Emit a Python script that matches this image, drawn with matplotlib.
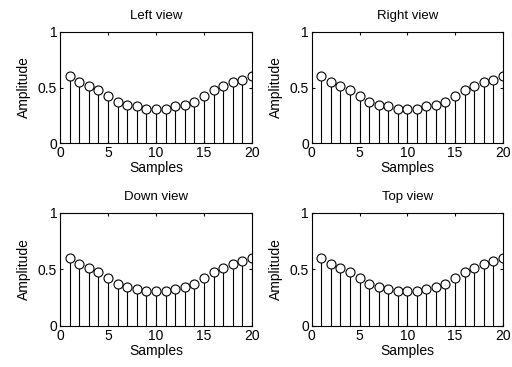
import matplotlib
matplotlib.use("Agg")
import matplotlib.pyplot as plt
import numpy as np

plt.rcParams['font.family'] = ['Liberation Sans', 'DejaVu Sans']

samples = np.arange(1, 21)
amplitude = [0.60, 0.55, 0.51, 0.48, 0.42, 0.37, 0.34, 0.33, 0.31, 0.31,
             0.31, 0.33, 0.34, 0.37, 0.42, 0.48, 0.51, 0.55, 0.57, 0.60]
titles = ["Left view", "Right view", "Down view", "Top view"]

fig = plt.figure(figsize=(5.12, 3.67), dpi=100)
positions = [[0.117, 0.610, 0.375, 0.303], [0.609, 0.610, 0.373, 0.303],
             [0.117, 0.112, 0.375, 0.308], [0.609, 0.112, 0.373, 0.308]]

for pos, title in zip(positions, titles):
    ax = fig.add_axes(pos)
    ax.vlines(samples, 0, amplitude, colors="black", linewidth=0.8)
    ax.plot(samples, amplitude, "o", mfc="white", mec="black", ms=6.5, mew=0.8)
    ax.set_xlim(0, 20)
    ax.set_ylim(0, 1)
    ax.set_xticks([0, 5, 10, 15, 20])
    ax.set_yticks([0, 0.5, 1])
    ax.set_yticklabels(["0", "0.5", "1"])
    ax.tick_params(direction="in", top=True, right=True, labelsize=10, length=2.5, pad=2)
    ax.set_title(title, fontsize=9.5, pad=9)
    ax.set_xlabel("Samples", fontsize=10, labelpad=1)
    ax.set_ylabel("Amplitude", fontsize=10, labelpad=5)
    for s in ax.spines.values():
        s.set_linewidth(0.8)

fig.savefig("out.png", dpi=100)
